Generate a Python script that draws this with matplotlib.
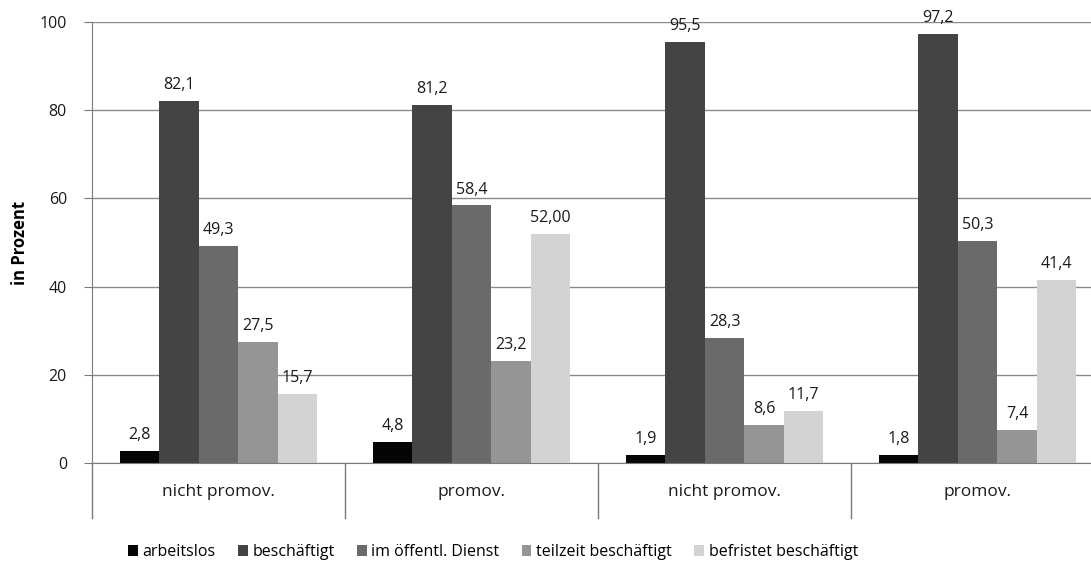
import matplotlib.pyplot as plt
import numpy as np

plt.rcParams['font.family'] = ['Open Sans', 'DejaVu Sans']

groups = ['nicht promov.', 'promov.', 'nicht promov.', 'promov.']
series = ['arbeitslos', 'beschäftigt', 'im öffentl. Dienst',
          'teilzeit beschäftigt', 'befristet beschäftigt']
arbeitslos = [2.8, 4.8, 1.9, 1.8]
beschaeftigt = [82.1, 81.2, 95.5, 97.2]
oeffentl = [49.3, 58.4, 28.3, 50.3]
teilzeit = [27.5, 23.2, 8.6, 7.4]
befristet = [15.7, 52.0, 11.7, 41.4]
# labels as printed in the source (one says 52,00)
labels = [
    ['2,8', '4,8', '1,9', '1,8'],
    ['82,1', '81,2', '95,5', '97,2'],
    ['49,3', '58,4', '28,3', '50,3'],
    ['27,5', '23,2', '8,6', '7,4'],
    ['15,7', '52,00', '11,7', '41,4'],
]
colors = ['#050505', '#444444', '#6a6a6a', '#959595', '#d3d3d3']

values = [arbeitslos, beschaeftigt, oeffentl, teilzeit, befristet]

fig = plt.figure(figsize=(10.91, 5.68), dpi=100)
ax = fig.add_axes([92 / 1091, 105 / 568, 1012 / 1091, 441 / 568])

x = np.arange(len(groups)) + 0.5
w = 0.156
for i, (vals, c) in enumerate(zip(values, colors)):
    pos = x + (i - 2) * w
    ax.bar(pos, vals, width=w, color=c, zorder=2, label=series[i])
    for p, v, t in zip(pos, vals, labels[i]):
        ax.text(p, v + 1.8, t, ha='center', va='bottom', fontsize=11.5,
                color='#1a1a1a')

ax.set_xlim(0, 4)
ax.set_ylim(0, 100)
ax.set_yticks([0, 20, 40, 60, 80, 100])
ax.yaxis.grid(True, color='#8a8a8a', linewidth=1.0, zorder=0)
ax.set_xticks([])
for s in ['top', 'right']:
    ax.spines[s].set_visible(False)
ax.spines['left'].set_color('#7a7a7a')
ax.spines['bottom'].set_color('#7a7a7a')
ax.tick_params(axis='y', length=6, color='#7a7a7a', labelsize=11.5,
               pad=12, labelcolor='#1a1a1a')
ax.set_ylabel('in Prozent', fontsize=12, fontweight='bold', labelpad=8)

# category band below the axis
for b in range(len(groups) + 1):
    ax.plot([b, b], [0, -12.5], color='#7a7a7a', linewidth=1.0,
            clip_on=False)
for xi, g in zip(x, groups):
    ax.text(xi, -6.6, g, ha='center', va='center', fontsize=12.5,
            color='#1a1a1a')

fig.legend(loc='center', bbox_to_anchor=(0.452, 0.028), ncol=5,
           frameon=False, fontsize=11.5, handlelength=0.6,
           handleheight=0.6, handletextpad=0.3, columnspacing=1.4)

fig.savefig('out.png', dpi=100)
